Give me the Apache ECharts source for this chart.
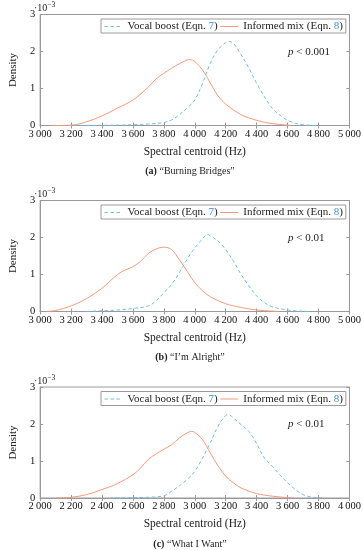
<!DOCTYPE html>
<html><head><meta charset="utf-8">
<script src="https://cdn.jsdelivr.net/npm/echarts@6/dist/echarts.min.js"></script>
<style>html,body{margin:0;padding:0;background:#fff}#c{width:364px;height:550px}</style>
</head><body><div id="c"></div>
<script>
// Plot (a) "Burning Bridges"
const blueX1 = [3180,3300,3400,3500,3600,3700,3800,3850,3900,3950,4000,4050,4100,4150,4200,4220,4250,4300,4350,4400,4450,4500,4550,4600,4650,4700,4750,4800];
const blueY1 = [0,0.003,0.006,0.01,0.02,0.04,0.08,0.15,0.29,0.47,0.69,1.14,1.68,2.05,2.24,2.27,2.22,1.91,1.55,1.14,0.78,0.47,0.28,0.14,0.06,0.02,0.005,0];
const orangeX1 = [3080,3200,3300,3400,3500,3600,3700,3750,3800,3850,3900,3950,3970,4000,4050,4100,4150,4200,4300,4400,4500,4600,4620];
const orangeY1 = [0,0.01,0.1,0.26,0.47,0.69,1.04,1.26,1.41,1.55,1.67,1.77,1.78,1.73,1.5,1.15,0.8,0.58,0.29,0.14,0.05,0.01,0];
// Plot (b) "I'm Alright"
const blueX2 = [3300,3400,3500,3600,3700,3750,3800,3850,3900,3950,4000,4050,4080,4100,4150,4200,4250,4300,4350,4400,4450,4500,4600,4700,4750];
const blueY2 = [0,0.02,0.04,0.08,0.15,0.29,0.51,0.73,1.05,1.41,1.72,1.96,2.08,2.05,1.90,1.67,1.36,1.00,0.69,0.42,0.24,0.13,0.04,0.005,0];
const orangeX2 = [3040,3100,3200,3300,3400,3500,3550,3600,3650,3700,3750,3800,3850,3900,3950,4000,4050,4100,4200,4300,4400,4500,4540];
const orangeY2 = [0,0.03,0.15,0.35,0.63,1.0,1.12,1.21,1.36,1.57,1.69,1.74,1.67,1.40,1.09,0.78,0.56,0.40,0.21,0.11,0.04,0.01,0];
// Plot (c) "What I Want"
const blueX3 = [2450,2600,2700,2800,2850,2900,2950,3000,3050,3100,3150,3200,3220,3250,3300,3350,3400,3450,3500,3550,3600,3650,3700,3750,3800,3830];
const blueY3 = [0,0.01,0.02,0.06,0.18,0.33,0.50,0.72,1.08,1.49,1.94,2.23,2.25,2.16,1.98,1.80,1.47,1.08,0.86,0.63,0.41,0.23,0.09,0.03,0.005,0];
const orangeX3 = [2100,2200,2300,2400,2500,2600,2650,2700,2750,2800,2850,2900,2950,2980,3000,3050,3100,3150,3200,3250,3300,3400,3500,3600,3640];
const orangeY3 = [0,0.02,0.09,0.23,0.39,0.63,0.81,1.05,1.19,1.32,1.44,1.62,1.76,1.80,1.77,1.58,1.22,0.87,0.59,0.41,0.27,0.12,0.05,0.01,0];

const xRanges = [[3000,5000],[3000,5000],[2000,4000]];
const pLabels = ['< 0.001','< 0.01','< 0.01'];
const captionLetters = ['(a)','(b)','(c)'];
const captionTitles = ['\u201cBurning Bridges\u201d','\u201cI\u2019m Alright\u201d','\u201cWhat I Want\u201d'];
const blueName = 'Vocal boost (Eqn. 7)';
const orangeName = 'Informed mix (Eqn. 8)';

const plots = [[blueX1,blueY1,orangeX1,orangeY1],[blueX2,blueY2,orangeX2,orangeY2],[blueX3,blueY3,orangeX3,orangeY3]];
const tops = [14.5, 200.5, 387];
const H = 111;
const FONT = 'Liberation Serif';
const BLUE = '#74bbe8';
const ORANGE = '#f59a7c';
const AX = '#9a9a9a';

const fmt = v => { const s = String(v); return s.length > 3 ? s.slice(0, s.length-3) + '\u2009' + s.slice(-3) : s; };
const zip = (xs, ys) => xs.map((x,i) => [x, ys[i]]);

const grid = [], xAxis = [], yAxis = [], series = [], legend = [], graphic = [];
plots.forEach((p, i) => {
  grid.push({left: 30, right: 14, top: tops[i], height: H, show: true, borderColor: AX, borderWidth: 1});
  const common = {type: 'value', gridIndex: i, min: xRanges[i][0], max: xRanges[i][1], interval: 200,
    splitLine: {show: false}, axisLine: {lineStyle: {color: AX}}, axisTick: {inside: true, length: 3, lineStyle: {color: AX}}};
  xAxis.push(Object.assign({}, common, {position: 'bottom',
    name: 'Spectral centroid (Hz)', nameLocation: 'middle', nameGap: 20,
    nameTextStyle: {fontFamily: FONT, fontSize: 11.5, color: '#222'},
    axisLabel: {formatter: fmt, fontFamily: FONT, fontSize: 10.5, color: '#111', margin: 3, showMinLabel: true, showMaxLabel: true}}));
  xAxis.push(Object.assign({}, common, {position: 'top', axisLabel: {show: false}}));
  const ycommon = {type: 'value', gridIndex: i, min: 0, max: 3, interval: 1, splitLine: {show: false},
    axisLine: {lineStyle: {color: AX}}, axisTick: {inside: true, length: 3, lineStyle: {color: AX}}};
  yAxis.push(Object.assign({}, ycommon, {position: 'left', name: 'Density', nameLocation: 'middle', nameGap: 15,
    nameTextStyle: {fontFamily: FONT, fontSize: 11, color: '#222'},
    axisLabel: {fontFamily: FONT, fontSize: 10.5, color: '#111', margin: 5}}));
  yAxis.push(Object.assign({}, ycommon, {position: 'right', axisLabel: {show: false}}));
  series.push({type: 'line', name: blueName, xAxisIndex: 2*i, yAxisIndex: 2*i, data: zip(p[0], p[1]),
    showSymbol: false, symbol: 'none', smooth: 0.35, lineStyle: {color: BLUE, width: 1, type: [3.5, 2.5]}, itemStyle: {color: BLUE}});
  series.push({type: 'line', name: orangeName, xAxisIndex: 2*i, yAxisIndex: 2*i, data: zip(p[2], p[3]),
    showSymbol: false, symbol: 'none', smooth: 0.35, lineStyle: {color: ORANGE, width: 1}, itemStyle: {color: ORANGE}});
  legend.push({left: 101, top: tops[i] + 4.5, orient: 'horizontal',
    data: [blueName, orangeName],
    itemWidth: 18, itemHeight: 10, itemGap: 2, padding: [2, 3, 1, 3], borderColor: AX, borderWidth: 1, borderRadius: 0,
    selectedMode: false,
    itemStyle: {opacity: 0, color: 'rgba(0,0,0,0)', borderWidth: 0},
    lineStyle: {width: 1},
    formatter: n => n.replace(/(\d)\)$/, '{n|$1})'),
    textStyle: {fontFamily: FONT, fontSize: 11, color: '#222', rich: {n: {fontFamily: FONT, fontSize: 11, color: '#3d8fd1'}}}});
  graphic.push({type: 'text', left: 34, top: tops[i] - 13,
    style: {text: '\u00b710{s|\u22123}', font: '10px ' + FONT, fill: '#222', rich: {s: {fontSize: 7.5, verticalAlign: 'top', padding: [0,0,6,0], fill: '#222', fontFamily: FONT}}}});
  graphic.push({type: 'text', left: 288, top: tops[i] + 32,
    style: {text: '{i|p} ' + pLabels[i], font: '11px ' + FONT, fill: '#222', rich: {i: {fontStyle: 'italic', fontFamily: FONT, fontSize: 11, fill: '#222'}}}});
  graphic.push({type: 'text', x: 190, y: tops[i] + 157, style: {text: '{b|' + captionLetters[i] + '} ' + captionTitles[i], font: '10px ' + FONT, fill: '#222', align: 'center', verticalAlign: 'middle',
    rich: {b: {fontWeight: 'bold', fontFamily: FONT, fontSize: 10, fill: '#222'}}}});
});

const chart = echarts.init(document.getElementById('c'), null, {renderer: 'canvas'});
chart.setOption({animation: false, grid, xAxis, yAxis, series, legend, graphic});
</script></body></html>
